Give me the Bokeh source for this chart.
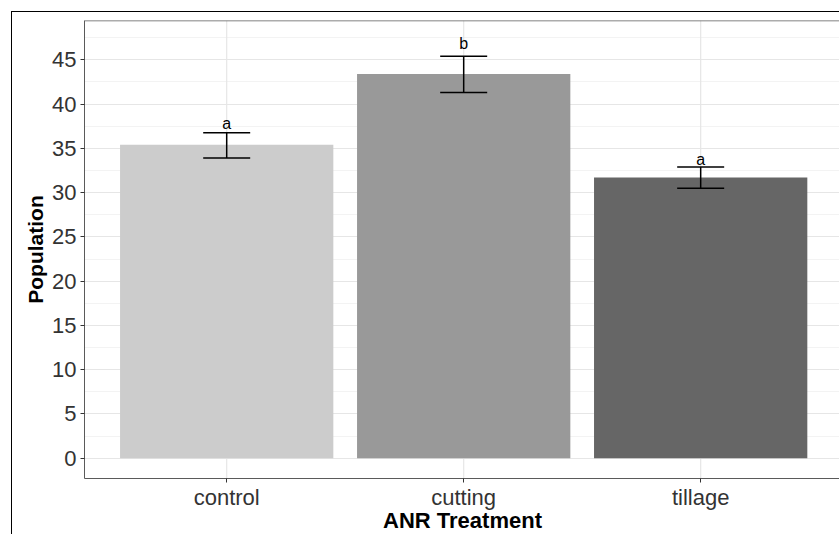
from bokeh.plotting import figure
from bokeh.models import (ColumnDataSource, Range1d, FixedTicker, Span,
                          SingleIntervalTicker, Whisker, TeeHead)
from bokeh.core.properties import value
from bokeh.embed import file_html
from bokeh.resources import INLINE

# ---- data ----
categories = ["control", "cutting", "tillage"]
means = [35.4, 43.4, 31.7]
lower = [33.9, 41.3, 30.5]
upper = [36.75, 45.4, 32.9]
letters = ["a", "b", "a"]
letter_y = [36.9, 45.85, 32.75]
fills = ["#CCCCCC", "#999999", "#666666"]
y_start, y_end = -2.29, 49.44

xs = [i + 1 for i in range(len(categories))]
src = ColumnDataSource(dict(x=xs, top=means, lower=lower, upper=upper,
                            lab=letters, ly=letter_y, fill=fills))

FONT = "Liberation Sans"
BORDER = "#5a5a5a"

p = figure(width=828, height=523, output_backend="svg", toolbar_location=None,
           x_range=Range1d(0.4, 3.59), y_range=Range1d(y_start, y_end),
           min_border_left=72, min_border_top=8, min_border_right=0,
           min_border_bottom=57)
p.styles = {"margin-left": "11px", "margin-top": "11px",
            "border-left": "1px solid black", "border-top": "1px solid black"}
p.outline_line_color = None
p.background_fill_color = None
p.border_fill_color = "white"

# vertical grid lines at category positions
for x in xs:
    p.add_layout(Span(location=x, dimension="height", line_color="#E6E6E6",
                      line_width=1.2, level="underlay"))

p.vbar(x="x", top="top", bottom=0, width=0.9, fill_color="fill",
       line_color=None, source=src)

w = Whisker(base="x", lower="lower", upper="upper", source=src,
            dimension="height", line_color="black", line_width=1.5,
            level="overlay",
            upper_head=TeeHead(size=47, line_color="black", line_width=1.5),
            lower_head=TeeHead(size=47, line_color="black", line_width=1.5))
p.add_layout(w)

p.text(x="x", y="ly", text="lab", source=src, text_align="center",
       text_baseline="bottom", text_font=value(FONT), text_font_size="16px",
       text_color="black")

# axes
xa = p.xaxis[0]
xa.ticker = FixedTicker(ticks=xs)
xa.major_label_overrides = {x: c for x, c in zip(xs, categories)}
xa.minor_tick_line_color = None
ya = p.yaxis[0]
ya.ticker = SingleIntervalTicker(interval=5, num_minor_ticks=2)
ya.minor_tick_line_color = None

for ax in (xa, ya):
    ax.axis_line_color = BORDER
    ax.axis_line_width = 1
    ax.major_tick_line_color = "#333333"
    ax.major_tick_line_width = 1
    ax.major_tick_out = 4
    ax.major_tick_in = 0
    ax.major_label_text_font = FONT
    ax.major_label_text_font_size = "22px"
    ax.major_label_text_color = "#333333"
    ax.major_label_standoff = 4
    ax.axis_label_text_font = FONT
    ax.axis_label_text_font_size = "21px"
    ax.axis_label_text_font_style = "bold"
    ax.axis_label_text_color = "black"
    ax.axis_label_standoff = 2

xa.major_label_standoff = 2
xa.axis_label_text_font_size = "22px"
xa.axis_label_standoff = -5

xa.axis_label = "ANR Treatment"
ya.axis_label = "Population"

# top panel border
p.add_layout(Span(location=y_end, dimension="width", line_color=BORDER,
                  line_width=1.5, level="overlay"))

# grids
p.xgrid.grid_line_color = None
p.ygrid.grid_line_color = "#E6E6E6"
p.ygrid.grid_line_width = 1.2
p.ygrid.minor_grid_line_color = "#F3F3F3"
p.ygrid.minor_grid_line_width = 1

open("out.html", "w").write(file_html(p, INLINE))
